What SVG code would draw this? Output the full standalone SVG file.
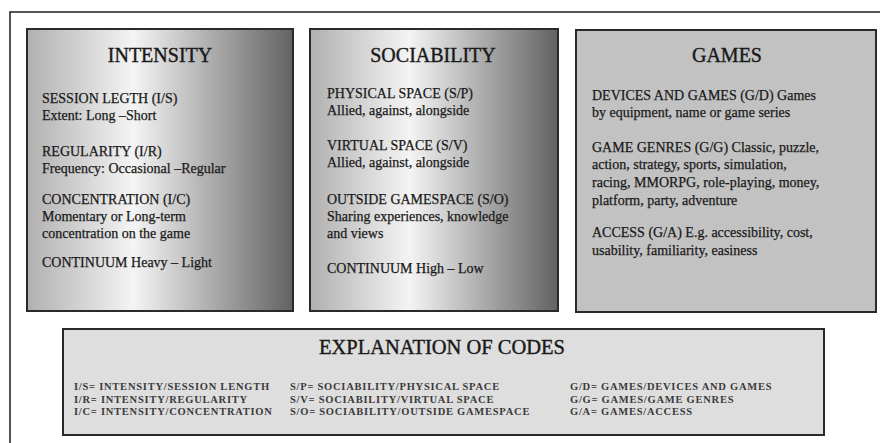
<svg xmlns="http://www.w3.org/2000/svg" width="880" height="443" viewBox="0 0 880 443">
  <defs>
    <linearGradient id="gradBox" x1="0" y1="0" x2="1" y2="0">
      <stop offset="0" stop-color="#b0b0b0"/>
      <stop offset="0.4" stop-color="#f4f4f4"/>
      <stop offset="1" stop-color="#626262"/>
    </linearGradient>
  </defs>
  <style>
    .frame { fill: none; stroke: #2a2a2a; stroke-width: 1.6; }
    .box { stroke: #2a2a2a; stroke-width: 2; }
    .grad { fill: url(#gradBox); }
    .games { fill: #c2c2c2; }
    .expl { fill: #dedede; }
    text { font-family: "Liberation Serif", "Times New Roman", serif; fill: #1a1a1a; stroke: #1a1a1a; stroke-width: 0.25; }
    .title { font-size: 20px; text-anchor: middle; stroke-width: 0.4; }
    .body { font-size: 14px; }
    .etitle { font-size: 20.5px; text-anchor: middle; stroke-width: 0.4; }
    .code { font-size: 10.5px; font-weight: bold; letter-spacing: 0.75px; fill: #3a3a3a; stroke: none; }
  </style>
  <rect x="0" y="0" width="880" height="443" fill="#ffffff"/>
  <rect class="frame" x="10" y="12" width="890" height="450"/>

  <g id="intensity">
    <rect class="box grad" x="27" y="29" width="266" height="282"/>
    <text class="title" x="160" y="62">INTENSITY</text>
    <text class="body" x="42" y="103">SESSION LEGTH (I/S)</text>
    <text class="body" x="42" y="120">Extent: Long –Short</text>
    <text class="body" x="42" y="156">REGULARITY (I/R)</text>
    <text class="body" x="42" y="173">Frequency: Occasional –Regular</text>
    <text class="body" x="42" y="204">CONCENTRATION (I/C)</text>
    <text class="body" x="42" y="221">Momentary or Long-term</text>
    <text class="body" x="42" y="238">concentration on the game</text>
    <text class="body" x="42" y="267">CONTINUUM Heavy – Light</text>
  </g>

  <g id="sociability">
    <rect class="box grad" x="310" y="29" width="248" height="282"/>
    <text class="title" x="433" y="62">SOCIABILITY</text>
    <text class="body" x="327" y="98">PHYSICAL SPACE (S/P)</text>
    <text class="body" x="327" y="115">Allied, against, alongside</text>
    <text class="body" x="327" y="150">VIRTUAL SPACE (S/V)</text>
    <text class="body" x="327" y="167">Allied, against, alongside</text>
    <text class="body" x="327" y="204">OUTSIDE GAMESPACE (S/O)</text>
    <text class="body" x="327" y="221">Sharing experiences, knowledge</text>
    <text class="body" x="327" y="238">and views</text>
    <text class="body" x="327" y="273">CONTINUUM High – Low</text>
  </g>

  <g id="games">
    <rect class="box games" x="576" y="30" width="300" height="282"/>
    <text class="title" x="727" y="62">GAMES</text>
    <text class="body" x="592" y="100">DEVICES AND GAMES (G/D) Games</text>
    <text class="body" x="592" y="117">by equipment, name or game series</text>
    <text class="body" x="592" y="152">GAME GENRES (G/G) Classic, puzzle,</text>
    <text class="body" x="592" y="169">action, strategy, sports, simulation,</text>
    <text class="body" x="592" y="187">racing, MMORPG, role-playing, money,</text>
    <text class="body" x="592" y="205">platform, party, adventure</text>
    <text class="body" x="592" y="237">ACCESS (G/A) E.g. accessibility, cost,</text>
    <text class="body" x="592" y="255">usability, familiarity, easiness</text>
  </g>

  <g id="explanation">
    <rect class="box expl" x="63" y="329" width="761" height="106"/>
    <text class="etitle" x="442" y="354">EXPLANATION OF CODES</text>
    <text class="code" x="74" y="390">I/S= INTENSITY/SESSION LENGTH</text>
    <text class="code" x="74" y="403">I/R= INTENSITY/REGULARITY</text>
    <text class="code" x="74" y="415">I/C= INTENSITY/CONCENTRATION</text>
    <text class="code" x="290" y="390">S/P= SOCIABILITY/PHYSICAL SPACE</text>
    <text class="code" x="290" y="403">S/V= SOCIABILITY/VIRTUAL SPACE</text>
    <text class="code" x="290" y="415">S/O= SOCIABILITY/OUTSIDE GAMESPACE</text>
    <text class="code" x="570" y="390">G/D= GAMES/DEVICES AND GAMES</text>
    <text class="code" x="570" y="403">G/G= GAMES/GAME GENRES</text>
    <text class="code" x="570" y="415">G/A= GAMES/ACCESS</text>
  </g>

  <g id="connectors"></g>
</svg>
